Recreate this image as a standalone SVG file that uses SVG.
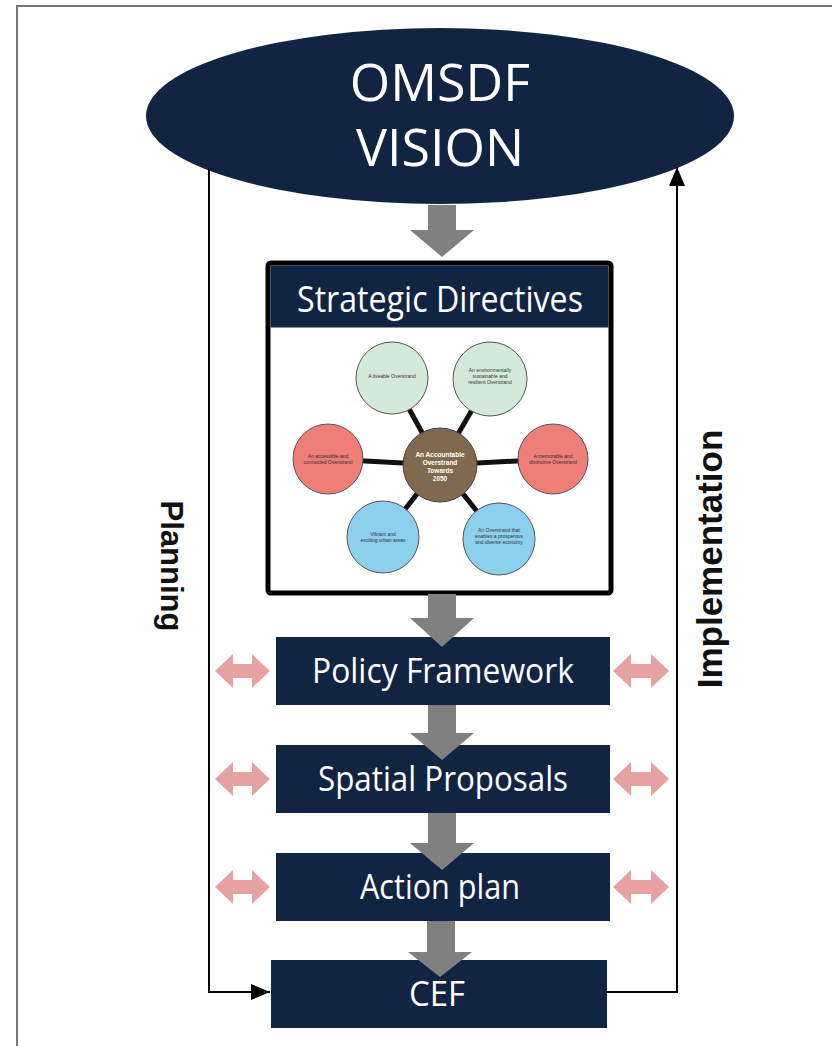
<svg xmlns="http://www.w3.org/2000/svg" width="832" height="1046" viewBox="0 0 832 1046">
<style>
.navy{fill:#112441}
.lbl{font-family:"Open Sans","DejaVu Sans",sans-serif;fill:#ffffff;text-anchor:middle}
.side{font-family:"Liberation Sans",Arial,sans-serif;font-weight:bold;fill:#111;text-anchor:middle}
.gray{fill:#808080}
.pink{fill:#e6a1a1}
.line{fill:none;stroke:#000;stroke-width:2}
.spoke{stroke:#111;stroke-width:5}
.sat{stroke:#555;stroke-width:1}
.tiny{font-family:"Liberation Sans",Arial,sans-serif;font-size:5px;fill:#333;text-anchor:middle}
.hub{font-family:"Liberation Sans",Arial,sans-serif;font-size:6.5px;font-weight:bold;fill:#fff;text-anchor:middle}
</style>
<defs>
<marker id="ah" markerUnits="userSpaceOnUse" markerWidth="19" markerHeight="16" refX="19" refY="8" orient="auto">
<path d="M0,0 L19,8 L0,16 z" fill="#000"/>
</marker>
</defs>
<rect width="832" height="1046" fill="#fff"/>
<path d="M17,1046 V6 H832" fill="none" stroke="#777" stroke-width="2"/>

<g id="vision">
<ellipse cx="440" cy="116" rx="294" ry="88" class="navy"/>
<text x="440" y="101" class="lbl" font-size="52">OMSDF</text>
<text x="440" y="166" class="lbl" font-size="52">VISION</text>
</g>

<g id="strategic-directives">
<rect x="268" y="263" width="343" height="330" rx="3" fill="#fff" stroke="#000" stroke-width="5"/>
<rect x="270.5" y="265.5" width="338" height="62" class="navy"/>
<text x="440" y="312" class="lbl" font-size="36" textLength="286" lengthAdjust="spacingAndGlyphs">Strategic Directives</text>
<g id="spider">
<line x1="440" y1="465" x2="392" y2="378" class="spoke"/>
<line x1="440" y1="465" x2="490" y2="379" class="spoke"/>
<line x1="440" y1="465" x2="328" y2="459" class="spoke"/>
<line x1="440" y1="465" x2="553" y2="459" class="spoke"/>
<line x1="440" y1="465" x2="383" y2="537" class="spoke"/>
<line x1="440" y1="465" x2="499" y2="539" class="spoke"/>
<circle cx="392" cy="378" r="36" fill="#d3e9d9" class="sat"/>
<circle cx="490" cy="379" r="37" fill="#d3e9d9" class="sat"/>
<circle cx="328" cy="459" r="35" fill="#ef7d78" class="sat"/>
<circle cx="553" cy="459" r="35" fill="#ef7d78" class="sat"/>
<circle cx="383" cy="537" r="36" fill="#8dd0ee" class="sat"/>
<circle cx="499" cy="539" r="36" fill="#8dd0ee" class="sat"/>
<circle cx="440" cy="465" r="37" fill="#7f6a50" stroke="#444" stroke-width="1"/>
<text x="392" y="378" class="tiny">A liveable Overstrand</text>
<text x="490" y="372" class="tiny">An environmentally</text>
<text x="490" y="378" class="tiny">sustainable and</text>
<text x="490" y="384" class="tiny">resilient Overstrand</text>
<text x="328" y="458" class="tiny">An accessible and</text>
<text x="328" y="464" class="tiny">connected Overstrand</text>
<text x="553" y="458" class="tiny">A memorable and</text>
<text x="553" y="464" class="tiny">distinctive Overstrand</text>
<text x="383" y="536" class="tiny">Vibrant and</text>
<text x="383" y="542" class="tiny">exciting urban areas</text>
<text x="499" y="532" class="tiny">An Overstrand that</text>
<text x="499" y="538" class="tiny">enables a prosperous</text>
<text x="499" y="544" class="tiny">and diverse economy</text>
<text x="440" y="457" class="hub">An Accountable</text>
<text x="440" y="465" class="hub">Overstrand</text>
<text x="440" y="473" class="hub">Towards</text>
<text x="440" y="481" class="hub">2050</text>
</g>
</g>

<g id="policy-framework">
<rect x="276" y="637" width="334" height="68" class="navy"/>
<text x="443" y="683" class="lbl" font-size="34" textLength="262" lengthAdjust="spacingAndGlyphs">Policy Framework</text>
</g>
<g id="spatial-proposals">
<rect x="276" y="745" width="334" height="68" class="navy"/>
<text x="443" y="791" class="lbl" font-size="34" textLength="250" lengthAdjust="spacingAndGlyphs">Spatial Proposals</text>
</g>
<g id="action-plan">
<rect x="276" y="853" width="334" height="68" class="navy"/>
<text x="440" y="899" class="lbl" font-size="34" textLength="160" lengthAdjust="spacingAndGlyphs">Action plan</text>
</g>
<g id="cef">
<rect x="271" y="960" width="336" height="68" class="navy"/>
<text x="437" y="1006" class="lbl" font-size="34" textLength="56" lengthAdjust="spacingAndGlyphs">CEF</text>
</g>

<g id="planning-label">
<text transform="translate(161,566) rotate(90)" class="side" font-size="31">Planning</text>
</g>
<g id="implementation-label">
<text transform="translate(722,559) rotate(-90)" class="side" font-size="35">Implementation</text>
</g>

<g id="connectors">
<path d="M209,168 V992 H270" class="line" marker-end="url(#ah)"/>
<path d="M606,992 H677 V167" class="line" marker-end="url(#ah)"/>
<polygon class="gray" points="428,205 456,205 456,230 474,230 442,257 410,230 428,230"/>
<polygon class="gray" points="428,594 456,594 456,618 474,618 442,647 410,618 428,618"/>
<polygon class="gray" points="428,705 456,705 456,733 474,733 442,760 410,733 428,733"/>
<polygon class="gray" points="428,813 456,813 456,843 474,843 442,870 410,843 428,843"/>
<polygon class="gray" points="427,921 455,921 455,952 472,952 440,977 408,952 427,952"/>
<polygon class="pink" points="215,671 233,654 233,664 252,664 252,654 270,671 252,688 252,678 233,678 233,688"/>
<polygon class="pink" points="613,671 631,654 631,664 651,664 651,654 669,671 651,688 651,678 631,678 631,688"/>
<polygon class="pink" points="215,779 233,762 233,772 252,772 252,762 270,779 252,796 252,786 233,786 233,796"/>
<polygon class="pink" points="613,779 631,762 631,772 651,772 651,762 669,779 651,796 651,786 631,786 631,796"/>
<polygon class="pink" points="215,887 233,870 233,880 252,880 252,870 270,887 252,904 252,894 233,894 233,904"/>
<polygon class="pink" points="613,887 631,870 631,880 651,880 651,870 669,887 651,904 651,894 631,894 631,904"/>
</g>
</svg>
